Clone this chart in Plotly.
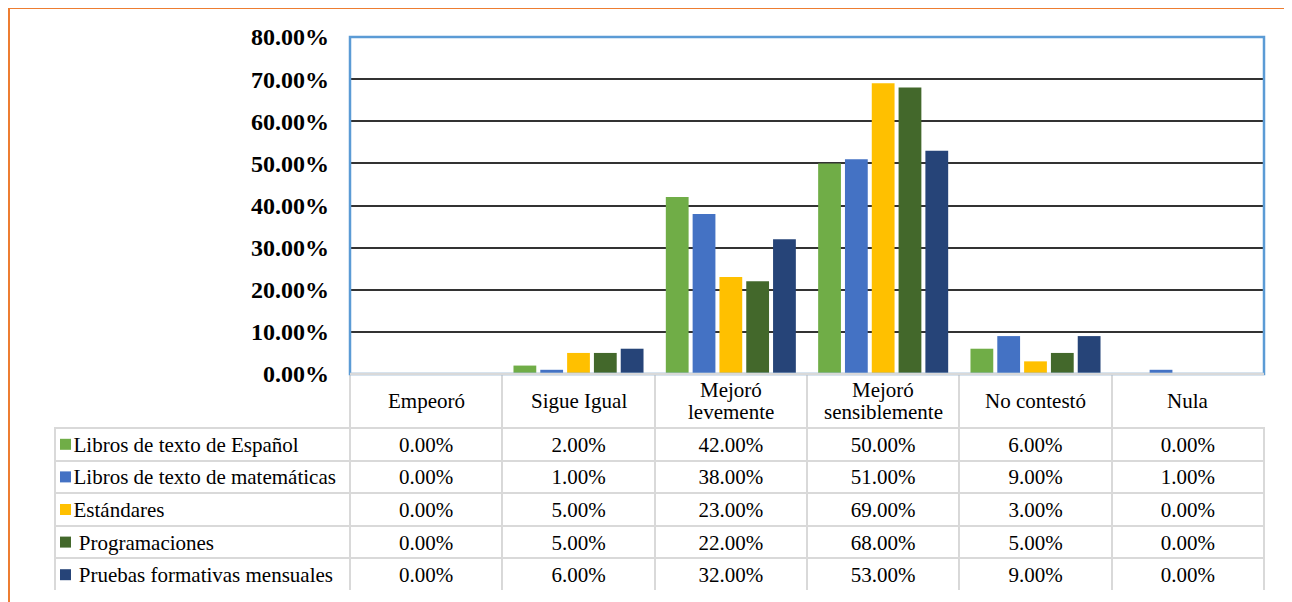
import plotly.graph_objects as go

# ---------------- data ----------------
categories = ["Empeoró", "Sigue Igual", "Mejoró levemente",
              "Mejoró sensiblemente", "No contestó", "Nula"]
category_labels = ["Empeoró", "Sigue Igual", "Mejoró<br>levemente",
                   "Mejoró<br>sensiblemente", "No contestó", "Nula"]
series_names = ["Libros de texto de Español", "Libros de texto de matemáticas",
                "Estándares", "Programaciones", "Pruebas formativas mensuales"]
series_label_indent = [0, 0, 0, 1, 1]   # extra space before the name in the table
espanol = [0, 2, 42, 50, 6, 0]
matematicas = [0, 1, 38, 51, 9, 1]
estandares = [0, 5, 23, 69, 3, 0]
programaciones = [0, 5, 22, 68, 5, 0]
pruebas = [0, 6, 32, 53, 9, 0]
y_ticks = [0, 10, 20, 30, 40, 50, 60, 70, 80]

series_values = [espanol, matematicas, estandares, programaciones, pruebas]
colors = ["#70AD47", "#4472C4", "#FFC000", "#43682B", "#264478"]

# ---------------- layout helpers ----------------
W, H = 1292, 602
OFF = 8          # page body margin of the html page
FONT = "Liberation Serif"
TXT = 21
LINE_H = 22


def fx(p):
    return (p - OFF) / W


def fy(p):
    return 1 - (p - OFF) / H


PLOT_L, PLOT_R, PLOT_T, PLOT_B = 350, 1264, 37, 374
TAB_L, TAB_T, TAB_B = 55, 428, 591

fig = go.Figure()

for name, vals, col in zip(series_names, series_values, colors):
    fig.add_trace(go.Bar(
        x=categories, y=[v / 100 for v in vals], name=name,
        marker=dict(color=col, line=dict(width=0)),
        showlegend=False, xaxis="x", yaxis="y",
    ))

# ---------------- data table ----------------
NB = "\u00a0"
label_cells = [NB * (2 + ind) + n for n, ind in zip(series_names, series_label_indent)]
rows = []
for lab, vals in zip(label_cells, series_values):
    rows.append([lab] + [f"{v:.2f}%" for v in vals])
header_row = rows[0]
body_rows = rows[1:]
columns = [list(col) for col in zip(*body_rows)]

n_cols = len(categories)
cat_w = (PLOT_R - PLOT_L) / n_cols
row_h = (TAB_B - TAB_T) / len(rows)

fig.add_trace(go.Table(
    domain=dict(x=[fx(TAB_L), fx(PLOT_R)], y=[fy(TAB_B), fy(TAB_T)]),
    columnwidth=[PLOT_L - TAB_L] + [cat_w] * n_cols,
    header=dict(values=header_row, height=row_h,
                align=["left"] + ["center"] * n_cols,
                line=dict(color="#D9D9D9", width=2),
                fill=dict(color="white"),
                font=dict(family=FONT, size=TXT, color="black")),
    cells=dict(values=columns, height=row_h,
               align=["left"] + ["center"] * n_cols,
               line=dict(color="#D9D9D9", width=2),
               fill=dict(color="white"),
               font=dict(family=FONT, size=TXT, color="black")),
))

# header labels (categories) centred in the header row of the table
for cat, lab in zip(categories, category_labels):
    lines = lab.split("<br>")
    for i, line in enumerate(lines):
        fig.add_annotation(x=cat, xref="x", y=fy((PLOT_B + TAB_T) / 2), yref="paper",
                           yshift=-(i - (len(lines) - 1) / 2) * LINE_H,
                           text=line, showarrow=False, yanchor="middle", xanchor="center",
                           font=dict(family=FONT, size=TXT, color="black"))

shapes = [
    # blue plot-area frame
    dict(type="rect", xref="x domain", yref="y domain", x0=0, x1=1, y0=0, y1=1,
         line=dict(color="#5B9BD5", width=2.5), layer="above"),
    # grey category baseline / table top
    dict(type="line", xref="x domain", yref="y domain", x0=0, x1=1, y0=0, y1=0,
         line=dict(color="#D9D9D9", width=2.5), layer="above"),
    # orange outer chart border
    dict(type="line", xref="paper", yref="paper", x0=fx(9), x1=1, y0=fy(8), y1=fy(8),
         line=dict(color="#ED7D31", width=2)),
    dict(type="line", xref="paper", yref="paper", x0=fx(9), x1=fx(9), y0=0, y1=fy(8),
         line=dict(color="#ED7D31", width=2)),
]
# legend keys inside the table's first column
for i, col in enumerate(colors):
    cy = TAB_T + (i + 0.5) * row_h
    shapes.append(dict(type="rect", xref="paper", yref="paper",
                       x0=fx(60), x1=fx(71), y0=fy(cy + 5.5), y1=fy(cy - 5.5),
                       fillcolor=col, line=dict(width=0), layer="above"))

fig.update_layout(
    width=W, height=H,
    margin=dict(l=0, r=0, t=0, b=0, autoexpand=False),
    paper_bgcolor="white", plot_bgcolor="white",
    barmode="group", bargap=0.12, bargroupgap=0.15,
    xaxis=dict(domain=[fx(PLOT_L), fx(PLOT_R)], type="category",
               categoryorder="array", categoryarray=categories,
               showticklabels=False, ticks="outside", tickson="boundaries",
               ticklen=TAB_T - PLOT_B, tickwidth=2, tickcolor="#D9D9D9",
               showgrid=False, showline=False, zeroline=False, automargin=False),
    yaxis=dict(domain=[fy(PLOT_B), fy(PLOT_T)], range=[0, 0.8],
               tickvals=[t / 100 for t in y_ticks], tickformat=".2%",
               tickfont=dict(family=FONT, size=24, color="black", weight="bold"),
               showgrid=True, gridcolor="#333333", gridwidth=1.5,
               zeroline=False, showline=False, ticks="",
               ticklabelstandoff=20, automargin=False),
    shapes=shapes,
)

fig.write_html("out.html")
